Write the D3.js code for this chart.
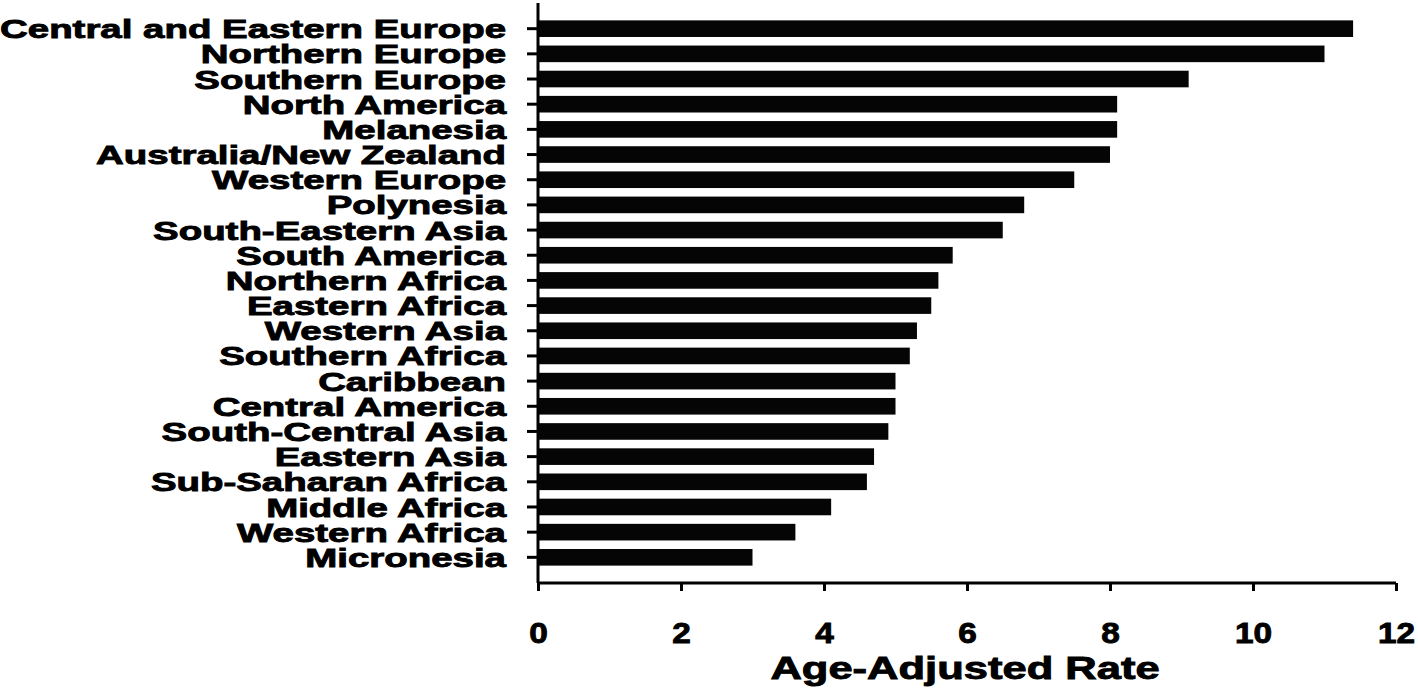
<!DOCTYPE html>
<html>
<head>
<meta charset="utf-8">
<script src="https://cdn.jsdelivr.net/npm/d3@7"></script>
<style>
  body { margin: 0; background: #fff; }
  svg text { font-family: "Liberation Sans", Arial, sans-serif; font-weight: bold; fill: #000; }
</style>
</head>
<body>
<svg id="chart" width="1418" height="691" viewBox="0 0 1418 691"></svg>
<script>
// regions, top to bottom
const regions = [
  "Central and Eastern Europe", "Northern Europe", "Southern Europe", "North America",
  "Melanesia", "Australia/New Zealand", "Western Europe", "Polynesia",
  "South-Eastern Asia", "South America", "Northern Africa", "Eastern Africa",
  "Western Asia", "Southern Africa", "Caribbean", "Central America",
  "South-Central Asia", "Eastern Asia", "Sub-Saharan Africa", "Middle Africa",
  "Western Africa", "Micronesia"
];
const rates = [
  11.4, 11.0, 9.1, 8.1,
  8.1, 8.0, 7.5, 6.8,
  6.5, 5.8, 5.6, 5.5,
  5.3, 5.2, 5.0, 5.0,
  4.9, 4.7, 4.6, 4.1,
  3.6, 3.0
];
const xTicks = [0, 2, 4, 6, 8, 10, 12];
const xTitle = "Age-Adjusted Rate";

const data = regions.map((r, i) => ({ region: r, rate: rates[i] }));

const svg = d3.select("#chart");
const labelStretch = 1.45; // the original type is set very wide
const tickStretch = 1.15;
const titleStretch = 1.36;

const plotLeft = 538, plotRight = 1396, plotTop = 3, plotBottom = 583;

const x = d3.scaleLinear().domain([0, 12]).range([plotLeft, plotRight]);
const y = d3.scaleBand()
  .domain(regions)
  .range([plotTop, plotBottom])
  .paddingInner(0.34)
  .paddingOuter(0.69);

// bars
svg.append("g")
  .selectAll("rect")
  .data(data)
  .enter()
  .append("rect")
  .attr("x", x(0))
  .attr("y", d => y(d.region))
  .attr("width", d => x(d.rate) - x(0))
  .attr("height", y.bandwidth())
  .attr("fill", "#050505");

// y axis
const yAxis = svg.append("g")
  .attr("transform", `translate(${plotLeft},0)`)
  .call(d3.axisLeft(y).tickSize(11).tickSizeOuter(0).tickPadding(0));
yAxis.select(".domain").attr("stroke", "#000").attr("stroke-width", 3)
  .attr("d", `M0,${plotTop}V${plotBottom}`);
yAxis.selectAll(".tick line").attr("stroke", "#000").attr("stroke-width", 3);
yAxis.selectAll(".tick text")
  .attr("x", -32 / labelStretch)
  .attr("dy", "0.36em")
  .attr("transform", `scale(${labelStretch},1)`)
  .style("font-size", "26.5px")
  .style("stroke", "#000")
  .style("stroke-width", "0.9px");

// x axis
const xAxis = svg.append("g")
  .attr("transform", `translate(0,${plotBottom})`)
  .call(d3.axisBottom(x).tickValues(xTicks).tickSize(8).tickSizeOuter(0));
xAxis.select(".domain").attr("stroke", "#000").attr("stroke-width", 3)
  .attr("d", `M${plotLeft},0H${plotRight}`);
xAxis.selectAll(".tick line").attr("stroke", "#000").attr("stroke-width", 3);
xAxis.selectAll(".tick text")
  .attr("y", 60)
  .attr("dy", 0)
  .attr("transform", `scale(${tickStretch},1)`)
  .style("font-size", "29px")
  .style("stroke", "#000")
  .style("stroke-width", "0.9px");

// axis title
svg.append("text")
  .attr("transform", `translate(${(plotLeft + plotRight) / 2 - 2},679) scale(${titleStretch},1)`)
  .attr("text-anchor", "middle")
  .style("font-size", "32px")
  .style("stroke", "#000")
  .style("stroke-width", "0.9px")
  .text(xTitle);
</script>
</body>
</html>
